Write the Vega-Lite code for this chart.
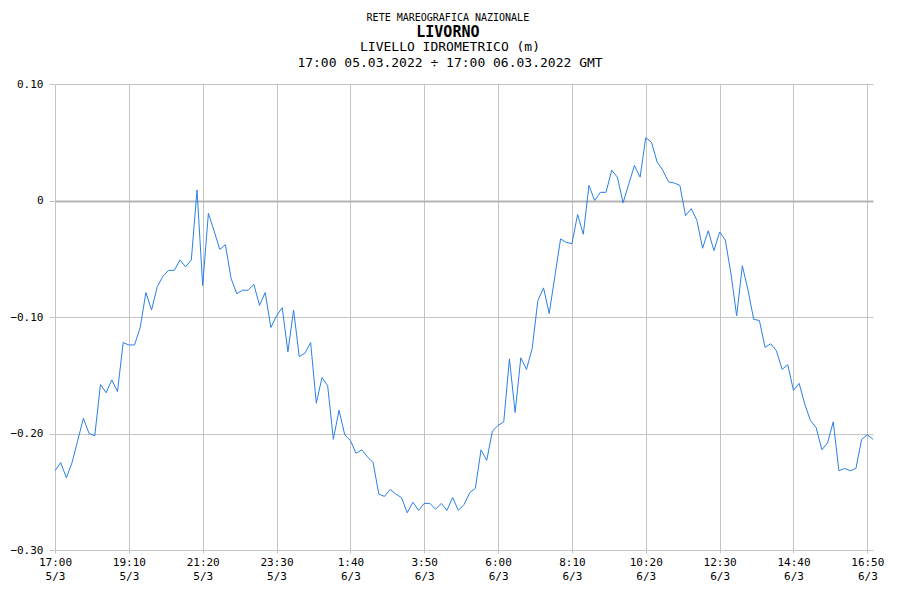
{
  "$schema": "https://vega.github.io/schema/vega-lite/v6.json",
  "autosize": {"type": "pad"},
  "padding": {"left": 9, "top": 13, "right": 5, "bottom": 5},
  "background": "white",
  "bounds": "flush",
  "title": {
    "text": "RETE MAREOGRAFICA NAZIONALE",
    "subtitle": "LIVORNO",
    "font": "DejaVu Sans Mono",
    "fontSize": 10,
    "fontWeight": "normal",
    "color": "black",
    "subtitleFont": "DejaVu Sans Mono",
    "subtitleFontSize": 15,
    "subtitleFontWeight": "bold",
    "subtitleColor": "black",
    "subtitlePadding": 2,
    "anchor": "middle",
    "dx": 1,
    "offset": 1
  },
  "datasets": {
    "livello": [
      {"t": "2022-03-05T17:00:00Z", "v": -0.232},
      {"t": "2022-03-05T17:10:00Z", "v": -0.225},
      {"t": "2022-03-05T17:20:00Z", "v": -0.238},
      {"t": "2022-03-05T17:30:00Z", "v": -0.225},
      {"t": "2022-03-05T17:40:00Z", "v": -0.206},
      {"t": "2022-03-05T17:50:00Z", "v": -0.187},
      {"t": "2022-03-05T18:00:00Z", "v": -0.200},
      {"t": "2022-03-05T18:10:00Z", "v": -0.202},
      {"t": "2022-03-05T18:20:00Z", "v": -0.158},
      {"t": "2022-03-05T18:30:00Z", "v": -0.165},
      {"t": "2022-03-05T18:40:00Z", "v": -0.154},
      {"t": "2022-03-05T18:50:00Z", "v": -0.164},
      {"t": "2022-03-05T19:00:00Z", "v": -0.122},
      {"t": "2022-03-05T19:10:00Z", "v": -0.124},
      {"t": "2022-03-05T19:20:00Z", "v": -0.124},
      {"t": "2022-03-05T19:30:00Z", "v": -0.109},
      {"t": "2022-03-05T19:40:00Z", "v": -0.079},
      {"t": "2022-03-05T19:50:00Z", "v": -0.094},
      {"t": "2022-03-05T20:00:00Z", "v": -0.074},
      {"t": "2022-03-05T20:10:00Z", "v": -0.065},
      {"t": "2022-03-05T20:20:00Z", "v": -0.060},
      {"t": "2022-03-05T20:30:00Z", "v": -0.060},
      {"t": "2022-03-05T20:40:00Z", "v": -0.051},
      {"t": "2022-03-05T20:50:00Z", "v": -0.057},
      {"t": "2022-03-05T21:00:00Z", "v": -0.051},
      {"t": "2022-03-05T21:10:00Z", "v": 0.009},
      {"t": "2022-03-05T21:20:00Z", "v": -0.073},
      {"t": "2022-03-05T21:30:00Z", "v": -0.011},
      {"t": "2022-03-05T21:40:00Z", "v": -0.026},
      {"t": "2022-03-05T21:50:00Z", "v": -0.042},
      {"t": "2022-03-05T22:00:00Z", "v": -0.038},
      {"t": "2022-03-05T22:10:00Z", "v": -0.067},
      {"t": "2022-03-05T22:20:00Z", "v": -0.080},
      {"t": "2022-03-05T22:30:00Z", "v": -0.077},
      {"t": "2022-03-05T22:40:00Z", "v": -0.077},
      {"t": "2022-03-05T22:50:00Z", "v": -0.072},
      {"t": "2022-03-05T23:00:00Z", "v": -0.090},
      {"t": "2022-03-05T23:10:00Z", "v": -0.079},
      {"t": "2022-03-05T23:20:00Z", "v": -0.109},
      {"t": "2022-03-05T23:30:00Z", "v": -0.099},
      {"t": "2022-03-05T23:40:00Z", "v": -0.092},
      {"t": "2022-03-05T23:50:00Z", "v": -0.130},
      {"t": "2022-03-06T00:00:00Z", "v": -0.094},
      {"t": "2022-03-06T00:10:00Z", "v": -0.134},
      {"t": "2022-03-06T00:20:00Z", "v": -0.131},
      {"t": "2022-03-06T00:30:00Z", "v": -0.122},
      {"t": "2022-03-06T00:40:00Z", "v": -0.174},
      {"t": "2022-03-06T00:50:00Z", "v": -0.152},
      {"t": "2022-03-06T01:00:00Z", "v": -0.159},
      {"t": "2022-03-06T01:10:00Z", "v": -0.205},
      {"t": "2022-03-06T01:20:00Z", "v": -0.180},
      {"t": "2022-03-06T01:30:00Z", "v": -0.201},
      {"t": "2022-03-06T01:40:00Z", "v": -0.206},
      {"t": "2022-03-06T01:50:00Z", "v": -0.217},
      {"t": "2022-03-06T02:00:00Z", "v": -0.214},
      {"t": "2022-03-06T02:10:00Z", "v": -0.220},
      {"t": "2022-03-06T02:20:00Z", "v": -0.225},
      {"t": "2022-03-06T02:30:00Z", "v": -0.252},
      {"t": "2022-03-06T02:40:00Z", "v": -0.254},
      {"t": "2022-03-06T02:50:00Z", "v": -0.248},
      {"t": "2022-03-06T03:00:00Z", "v": -0.252},
      {"t": "2022-03-06T03:10:00Z", "v": -0.255},
      {"t": "2022-03-06T03:20:00Z", "v": -0.268},
      {"t": "2022-03-06T03:30:00Z", "v": -0.259},
      {"t": "2022-03-06T03:40:00Z", "v": -0.266},
      {"t": "2022-03-06T03:50:00Z", "v": -0.260},
      {"t": "2022-03-06T04:00:00Z", "v": -0.260},
      {"t": "2022-03-06T04:10:00Z", "v": -0.265},
      {"t": "2022-03-06T04:20:00Z", "v": -0.260},
      {"t": "2022-03-06T04:30:00Z", "v": -0.266},
      {"t": "2022-03-06T04:40:00Z", "v": -0.255},
      {"t": "2022-03-06T04:50:00Z", "v": -0.266},
      {"t": "2022-03-06T05:00:00Z", "v": -0.261},
      {"t": "2022-03-06T05:10:00Z", "v": -0.251},
      {"t": "2022-03-06T05:20:00Z", "v": -0.247},
      {"t": "2022-03-06T05:30:00Z", "v": -0.214},
      {"t": "2022-03-06T05:40:00Z", "v": -0.223},
      {"t": "2022-03-06T05:50:00Z", "v": -0.198},
      {"t": "2022-03-06T06:00:00Z", "v": -0.193},
      {"t": "2022-03-06T06:10:00Z", "v": -0.190},
      {"t": "2022-03-06T06:20:00Z", "v": -0.136},
      {"t": "2022-03-06T06:30:00Z", "v": -0.182},
      {"t": "2022-03-06T06:40:00Z", "v": -0.135},
      {"t": "2022-03-06T06:50:00Z", "v": -0.145},
      {"t": "2022-03-06T07:00:00Z", "v": -0.127},
      {"t": "2022-03-06T07:10:00Z", "v": -0.086},
      {"t": "2022-03-06T07:20:00Z", "v": -0.075},
      {"t": "2022-03-06T07:30:00Z", "v": -0.097},
      {"t": "2022-03-06T07:40:00Z", "v": -0.065},
      {"t": "2022-03-06T07:50:00Z", "v": -0.033},
      {"t": "2022-03-06T08:00:00Z", "v": -0.036},
      {"t": "2022-03-06T08:10:00Z", "v": -0.037},
      {"t": "2022-03-06T08:20:00Z", "v": -0.012},
      {"t": "2022-03-06T08:30:00Z", "v": -0.029},
      {"t": "2022-03-06T08:40:00Z", "v": 0.013},
      {"t": "2022-03-06T08:50:00Z", "v": 0.000},
      {"t": "2022-03-06T09:00:00Z", "v": 0.007},
      {"t": "2022-03-06T09:10:00Z", "v": 0.007},
      {"t": "2022-03-06T09:20:00Z", "v": 0.026},
      {"t": "2022-03-06T09:30:00Z", "v": 0.020},
      {"t": "2022-03-06T09:40:00Z", "v": -0.002},
      {"t": "2022-03-06T09:50:00Z", "v": 0.014},
      {"t": "2022-03-06T10:00:00Z", "v": 0.030},
      {"t": "2022-03-06T10:10:00Z", "v": 0.020},
      {"t": "2022-03-06T10:20:00Z", "v": 0.054},
      {"t": "2022-03-06T10:30:00Z", "v": 0.050},
      {"t": "2022-03-06T10:40:00Z", "v": 0.033},
      {"t": "2022-03-06T10:50:00Z", "v": 0.026},
      {"t": "2022-03-06T11:00:00Z", "v": 0.016},
      {"t": "2022-03-06T11:10:00Z", "v": 0.015},
      {"t": "2022-03-06T11:20:00Z", "v": 0.013},
      {"t": "2022-03-06T11:30:00Z", "v": -0.013},
      {"t": "2022-03-06T11:40:00Z", "v": -0.007},
      {"t": "2022-03-06T11:50:00Z", "v": -0.017},
      {"t": "2022-03-06T12:00:00Z", "v": -0.041},
      {"t": "2022-03-06T12:10:00Z", "v": -0.026},
      {"t": "2022-03-06T12:20:00Z", "v": -0.043},
      {"t": "2022-03-06T12:30:00Z", "v": -0.027},
      {"t": "2022-03-06T12:40:00Z", "v": -0.034},
      {"t": "2022-03-06T12:50:00Z", "v": -0.063},
      {"t": "2022-03-06T13:00:00Z", "v": -0.099},
      {"t": "2022-03-06T13:10:00Z", "v": -0.056},
      {"t": "2022-03-06T13:20:00Z", "v": -0.077},
      {"t": "2022-03-06T13:30:00Z", "v": -0.102},
      {"t": "2022-03-06T13:40:00Z", "v": -0.103},
      {"t": "2022-03-06T13:50:00Z", "v": -0.126},
      {"t": "2022-03-06T14:00:00Z", "v": -0.123},
      {"t": "2022-03-06T14:10:00Z", "v": -0.129},
      {"t": "2022-03-06T14:20:00Z", "v": -0.145},
      {"t": "2022-03-06T14:30:00Z", "v": -0.141},
      {"t": "2022-03-06T14:40:00Z", "v": -0.163},
      {"t": "2022-03-06T14:50:00Z", "v": -0.157},
      {"t": "2022-03-06T15:00:00Z", "v": -0.175},
      {"t": "2022-03-06T15:10:00Z", "v": -0.189},
      {"t": "2022-03-06T15:20:00Z", "v": -0.195},
      {"t": "2022-03-06T15:30:00Z", "v": -0.214},
      {"t": "2022-03-06T15:40:00Z", "v": -0.208},
      {"t": "2022-03-06T15:50:00Z", "v": -0.190},
      {"t": "2022-03-06T16:00:00Z", "v": -0.232},
      {"t": "2022-03-06T16:10:00Z", "v": -0.230},
      {"t": "2022-03-06T16:20:00Z", "v": -0.232},
      {"t": "2022-03-06T16:30:00Z", "v": -0.230},
      {"t": "2022-03-06T16:40:00Z", "v": -0.205},
      {"t": "2022-03-06T16:50:00Z", "v": -0.201},
      {"t": "2022-03-06T17:00:00Z", "v": -0.205}
    ]
  },
  "vconcat": [
    {
      "title": {
        "text": "LIVELLO IDROMETRICO (m)",
        "subtitle": "17:00 05.03.2022 ÷ 17:00 06.03.2022 GMT",
        "font": "DejaVu Sans Mono",
        "fontSize": 13,
        "fontWeight": "normal",
        "color": "black",
        "subtitleFont": "DejaVu Sans Mono",
        "subtitleFontSize": 13,
        "subtitleColor": "black",
        "subtitlePadding": 3,
        "anchor": "middle",
        "dx": -14,
        "offset": 8
      },
      "width": 818,
      "height": 466,
      "data": {"name": "livello"},
      "mark": {"type": "line", "color": "#2a80e6", "strokeWidth": 1, "clip": true},
      "encoding": {
        "x": {
          "field": "t",
          "type": "temporal",
          "scale": {
            "type": "utc",
            "domain": [
              {"year": 2022, "month": 3, "date": 5, "hours": 17, "minutes": 0, "utc": true},
              {"year": 2022, "month": 3, "date": 6, "hours": 17, "minutes": 0, "utc": true}
            ]
          },
          "axis": {
            "title": null,
            "values": [
              {"year": 2022, "month": 3, "date": 5, "hours": 17, "minutes": 0, "utc": true},
              {"year": 2022, "month": 3, "date": 5, "hours": 19, "minutes": 10, "utc": true},
              {"year": 2022, "month": 3, "date": 5, "hours": 21, "minutes": 20, "utc": true},
              {"year": 2022, "month": 3, "date": 5, "hours": 23, "minutes": 30, "utc": true},
              {"year": 2022, "month": 3, "date": 6, "hours": 1, "minutes": 40, "utc": true},
              {"year": 2022, "month": 3, "date": 6, "hours": 3, "minutes": 50, "utc": true},
              {"year": 2022, "month": 3, "date": 6, "hours": 6, "minutes": 0, "utc": true},
              {"year": 2022, "month": 3, "date": 6, "hours": 8, "minutes": 10, "utc": true},
              {"year": 2022, "month": 3, "date": 6, "hours": 10, "minutes": 20, "utc": true},
              {"year": 2022, "month": 3, "date": 6, "hours": 12, "minutes": 30, "utc": true},
              {"year": 2022, "month": 3, "date": 6, "hours": 14, "minutes": 40, "utc": true},
              {"year": 2022, "month": 3, "date": 6, "hours": 16, "minutes": 50, "utc": true}
            ],
            "labelExpr": "[utcFormat(datum.value, '%-H:%M'), utcFormat(datum.value, '%-d/%-m')]",
            "labelLineHeight": 14,
            "labelPadding": 3,
            "tickSize": 3,
            "labelOverlap": false,
            "labelFlush": false,
            "labelBound": false,
            "grid": true
          }
        },
        "y": {
          "field": "v",
          "type": "quantitative",
          "scale": {"domain": [-0.3, 0.1], "nice": false, "zero": false},
          "axis": {
            "title": null,
            "values": [-0.3, -0.2, -0.1, 0, 0.1],
            "labelExpr": "datum.value === 0 ? '0' : format(datum.value, '.2f')",
            "tickSize": 6,
            "labelPadding": 6,
            "grid": true,
            "gridColor": {"condition": {"test": "datum.value === 0", "value": "#b4b4b4"}, "value": "#c4c4c4"},
            "gridWidth": {"condition": {"test": "datum.value === 0", "value": 2}, "value": 1}
          }
        }
      }
    }
  ],
  "config": {
    "view": {"stroke": null},
    "axis": {
      "domain": false,
      "labelFont": "DejaVu Sans Mono",
      "labelFontSize": 11,
      "labelColor": "black",
      "gridColor": "#c4c4c4",
      "tickColor": "#c4c4c4",
      "gridWidth": 1
    }
  }
}
